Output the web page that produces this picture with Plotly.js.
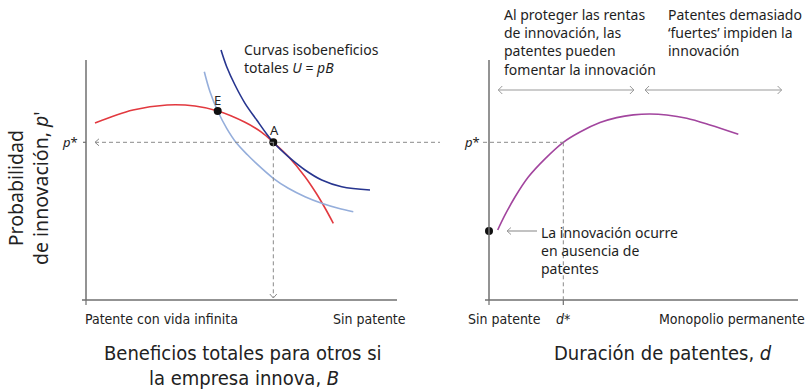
<!DOCTYPE html>
<html><head><meta charset="utf-8">
<script src="https://cdn.plot.ly/plotly-3.0.1.min.js"></script>
<style>html,body{margin:0;padding:0;background:#fff;}</style>
</head><body><div id="chart" style="width:809px;height:391px;"></div>
<script>
// ---------- Data ----------
// Left panel: total benefits to others B (x) vs probability of innovation p (y)
const redB = [0.289, 1.511, 2.605, 3.505, 4.244, 5.113, 5.650, 6.023, 6.505, 7.042, 7.418, 7.685, 7.952];
const redP = [7.375, 7.917, 8.125, 8.083, 7.875, 7.404, 6.988, 6.571, 5.979, 5.138, 4.417, 3.833, 3.196];
const darkIsoB = [4.341, 4.524, 4.791, 5.113, 5.489, 5.810, 6.023, 6.505, 7.042, 7.579, 8.222, 9.132];
const darkIsoP = [10.417, 9.721, 8.958, 8.196, 7.5, 6.917, 6.571, 5.971, 5.417, 5.0, 4.721, 4.583];
const lightIsoB = [3.804, 3.987, 4.235, 4.524, 4.846, 5.199, 5.434, 6.023, 6.505, 7.042, 7.579, 8.113, 8.595];
const lightIsoP = [9.513, 8.679, 7.875, 7.154, 6.529, 6.042, 5.742, 5.071, 4.654, 4.304, 4.029, 3.821, 3.679];
const pointLabels = ["E", "A"];
const pointB = [4.235, 6.023];
const pointP = [7.875, 6.571];
const pStar = 6.571;
// Right panel: patent duration d (x) vs probability of innovation p (y)
const durD = [0.282, 0.518, 0.841, 1.272, 1.812, 2.405, 2.945, 3.592, 4.133, 4.670, 5.210, 5.751, 6.398, 7.152, 8.068];
const durP = [2.917, 3.542, 4.292, 5.125, 5.883, 6.571, 7.0, 7.392, 7.6, 7.713, 7.75, 7.708, 7.571, 7.292, 6.904];
const dStar = 2.405;
const pNoPatent = 2.875;
const axisMax = 10;
const arrowY = 8.75;
const arrowSpans = [[0.30, 4.69], [5.05, 9.47]];

// ---------- Layout helpers ----------
const W = 809, H = 391;
const PX = 31.1, PX2 = 30.9, PY = 24;   // pixels per unit
const px = v => v / W, py = v => 1 - v / H;
const axisCol = '#6f6f6f', dashCol = '#8a8a8a', arrCol = '#9a9a9a';
const tickFont = {family: '"DejaVu Sans Condensed", "Liberation Sans Narrow", sans-serif', size: 14, color: '#222'};
const titleFont = {family: '"DejaVu Sans Condensed", "Liberation Sans Narrow", sans-serif', size: 20, color: '#222'};
const noteFont = {family: '"Noto Sans", "Open Sans", sans-serif', size: 14, color: '#1e1e1e'};

function line(xr, yr, x0, y0, x1, y1, color, width, dash) {
  return {type: 'line', xref: xr, yref: yr, x0, y0, x1, y1, layer: 'above',
          line: {color, width, dash: dash || 'solid'}};
}
// open chevron, tip at (x,y), direction 'l','r','d'; size in pixels
function chevron(xr, yr, x, y, dir, pxPerX, len, half, color) {
  let p;
  if (dir === 'l') p = `M ${x + len / pxPerX},${y + half / PY} L ${x},${y} L ${x + len / pxPerX},${y - half / PY}`;
  if (dir === 'r') p = `M ${x - len / pxPerX},${y + half / PY} L ${x},${y} L ${x - len / pxPerX},${y - half / PY}`;
  if (dir === 'd') p = `M ${x - half / pxPerX},${y + len / PY} L ${x},${y} L ${x + half / pxPerX},${y + len / PY}`;
  return {type: 'path', xref: xr, yref: yr, path: p, layer: 'above', line: {color, width: 1}};
}

const sm = 1;
const traces = [
  {x: redB, y: redP, xaxis: 'x', yaxis: 'y', mode: 'lines', line: {color: '#e2393f', width: 1.6, shape: 'spline', smoothing: sm}},
  {x: lightIsoB, y: lightIsoP, xaxis: 'x', yaxis: 'y', mode: 'lines', line: {color: '#95aedb', width: 1.6, shape: 'spline', smoothing: sm}},
  {x: darkIsoB, y: darkIsoP, xaxis: 'x', yaxis: 'y', mode: 'lines', line: {color: '#27358f', width: 1.6, shape: 'spline', smoothing: sm}},
  {x: pointB, y: pointP, xaxis: 'x', yaxis: 'y', mode: 'markers', marker: {color: '#111', size: 8}},
  {x: durD, y: durP, xaxis: 'x2', yaxis: 'y2', mode: 'lines', line: {color: '#a2459e', width: 1.6, shape: 'spline', smoothing: sm}},
  {x: [0], y: [pNoPatent], xaxis: 'x2', yaxis: 'y2', mode: 'markers', marker: {color: '#111', size: 8}, cliponaxis: false}
];

const shapes = [
  // left axes
  line('x', 'y', 0, 0, 0, axisMax, axisCol, 1.5),
  line('x', 'y', -4 / PX, 0, axisMax, 0, axisCol, 1.5),
  line('x', 'y', 0, 0, 0, -5 / PY, axisCol, 1.2),
  line('x', 'y', -3 / PX, pStar, 0, pStar, axisCol, 1.2),
  // left dashed guides
  line('x', 'y', 9 / PX, pStar, 354 / PX, pStar, dashCol, 1, '4px,3px'),
  line('x', 'y', pointB[1], pStar, pointB[1], 2 / PY, dashCol, 1, '4px,3px'),
  chevron('x', 'y', 9 / PX, pStar, 'l', PX, 4, 3.5, dashCol),
  chevron('x', 'y', pointB[1], 2 / PY, 'd', PX, 4, 3.5, dashCol),
  // right axes
  line('x2', 'y2', 0, 0, 0, axisMax, axisCol, 1.5),
  line('x2', 'y2', -4 / PX2, 0, axisMax, 0, axisCol, 1.5),
  line('x2', 'y2', 0, 0, 0, -5 / PY, axisCol, 1.2),
  line('x2', 'y2', dStar, 0, dStar, -5 / PY, axisCol, 1.2),
  // right dashed guides
  line('x2', 'y2', -6 / PX2, pStar, dStar, pStar, dashCol, 1, '4px,3px'),
  line('x2', 'y2', dStar, pStar, dStar, 0, dashCol, 1, '4px,3px'),
  // arrow from note to dot
  line('x2', 'y2', 18 / PX2, pNoPatent, 48 / PX2, pNoPatent, arrCol, 1.2),
  chevron('x2', 'y2', 18 / PX2, pNoPatent, 'l', PX2, 4, 3.5, arrCol)
];
arrowSpans.forEach(s => {
  shapes.push(line('x2', 'y2', s[0], arrowY, s[1], arrowY, arrCol, 1.2));
  shapes.push(chevron('x2', 'y2', s[0], arrowY, 'l', PX2, 4, 4, arrCol));
  shapes.push(chevron('x2', 'y2', s[1], arrowY, 'r', PX2, 4, 4, arrCol));
});

function note(text, xp, yp, xanchor, font, extra) {
  return Object.assign({text, xref: 'paper', yref: 'paper', x: px(xp), y: py(yp),
    xanchor, yanchor: 'middle', align: xanchor === 'right' ? 'right' : (xanchor === 'center' ? 'center' : 'left'),
    showarrow: false, font}, extra || {});
}

const ptFont = {family: '"Noto Sans", sans-serif', size: 13, color: '#222'};
const annotations = [
  note('Curvas isobeneficios<br>totales <i>U</i> = <i>pB</i>', 242, 58.5, 'left', noteFont),
  {text: pointLabels[0], xref: 'x', yref: 'y', x: pointB[0], y: pointP[0], yshift: 11, showarrow: false, font: ptFont},
  {text: pointLabels[1], xref: 'x', yref: 'y', x: pointB[1], y: pointP[1], yshift: 12, xshift: 1, showarrow: false, font: ptFont},
  {text: '<i>p</i>*', xref: 'paper', yref: 'y', x: px(70), y: pStar, xanchor: 'center', yanchor: 'middle', showarrow: false, font: ptFont},
  {text: '<i>p</i>*', xref: 'paper', yref: 'y2', x: px(472), y: pStar, xanchor: 'center', yanchor: 'middle', showarrow: false, font: ptFont},
  note("Probabilidad<br>de innovación, <i>p</i>'", 28, 188, 'center', {family: '"Noto Sans", "Open Sans", sans-serif', size: 19.5, color: '#222'}, {textangle: -90}),
  note('Patente con vida infinita', 83, 319, 'left', tickFont),
  note('Sin patente', 408, 319, 'right', tickFont),
  note('Sin patente', 504, 319, 'center', tickFont),
  note('<i>d</i>*', 563, 319, 'center', tickFont),
  note('Monopolio permanente', 807, 319, 'right', tickFont),
  note('Beneficios totales para otros si', 243, 353, 'center', titleFont),
  note('la empresa innova, <i>B</i>', 244, 378, 'center', titleFont),
  note('Duración de patentes, <i>d</i>', 663, 353, 'center', titleFont),
  note('Al proteger las rentas<br>de innovación, las<br>patentes pueden<br>fomentar la innovación', 502, 41.5, 'left', noteFont),
  note('Patentes demasiado<br>‘fuertes’ impiden la<br>innovación', 666, 32.5, 'left', noteFont),
  note('La innovación ocurre<br>en ausencia de<br>patentes', 539, 250, 'left', noteFont)
];

const yDom = [(H - 310) / H, (H - 40) / H];
const yRange = [(300 - 310) / PY, (300 - 40) / PY];
const layout = {
  width: W, height: H, margin: {l: 0, r: 0, t: 0, b: 0},
  paper_bgcolor: '#fff', plot_bgcolor: 'rgba(0,0,0,0)', showlegend: false,
  font: {family: '"Noto Sans", sans-serif', color: '#222'},
  xaxis: {domain: [80 / W, 445 / W], range: [(80 - 86) / PX, (445 - 86) / PX], visible: false, fixedrange: true},
  yaxis: {domain: yDom, range: yRange, visible: false, fixedrange: true},
  xaxis2: {domain: [465 / W, 808 / W], range: [(465 - 489) / PX2, (808 - 489) / PX2], visible: false, anchor: 'y2', fixedrange: true},
  yaxis2: {domain: yDom, range: yRange, visible: false, anchor: 'x2', fixedrange: true},
  shapes, annotations
};
Plotly.newPlot('chart', traces, layout, {staticPlot: true, displayModeBar: false});
</script></body></html>
